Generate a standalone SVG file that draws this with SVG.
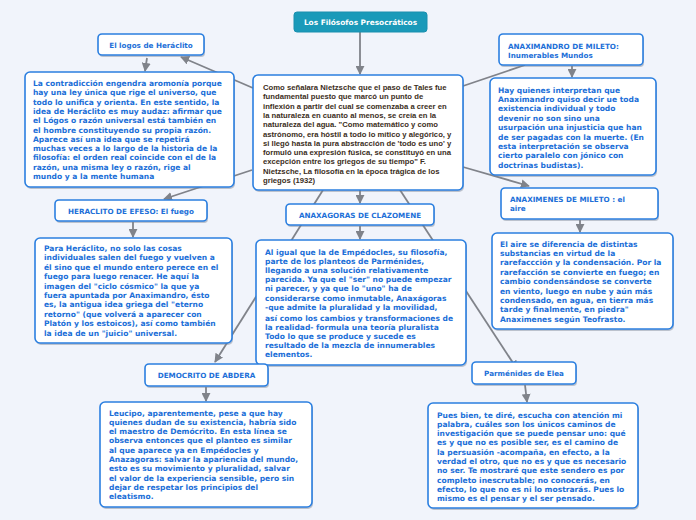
<svg xmlns="http://www.w3.org/2000/svg" width="696" height="520" viewBox="0 0 696 520">
<style>
.bg{fill:#f1f4fb}
.box{fill:#ffffff;stroke:#2b7fe0;stroke-width:1.6}
.sh{fill:#7d8494;opacity:0.45}
.root{fill:#1a9ab9;stroke:#1a8fae;stroke-width:1}
.t{font-family:"DejaVu Sans",Verdana,sans-serif;font-weight:bold;font-size:7.2px;fill:#1c6fd8}
.b{font-size:7.55px}
.tc{text-anchor:middle}
.dk{font-family:"Liberation Sans",Arial,sans-serif;font-weight:bold;font-size:7.7px;fill:#3b2e22}
.rt{font-family:"DejaVu Sans",Verdana,sans-serif;font-weight:bold;font-size:7.4px;fill:#ffffff;text-anchor:middle}
.ln{stroke:#80838a;stroke-width:1.8;fill:none}
.ar{stroke:#80838a;stroke-width:1.8;fill:none;marker-end:url(#ah)}
</style>
<defs>
<marker id="ah" viewBox="0 0 10 10" refX="9" refY="5" markerWidth="5" markerHeight="5" orient="auto" markerUnits="strokeWidth">
<path d="M0,0 L10,5 L0,10 z" fill="#80838a"/>
</marker>
</defs>
<rect class="bg" x="0" y="0" width="696" height="520"/>

<g id="connectors">
<path class="ar" d="M360,32 L360,74"/>
<path class="ar" d="M253,88 L181,57"/>
<path class="ar" d="M147,58 L145,71"/>
<path class="ar" d="M252,170 L164,199"/>
<path class="ar" d="M133,222 L133,237"/>
<path class="ln" d="M463,86 L525,65"/>
<path class="ar" d="M572,66 L572,77"/>
<path class="ar" d="M463,167 L529,186"/>
<path class="ar" d="M580,220 L580,232"/>
<path class="ar" d="M360,190 L360,203"/>
<path class="ar" d="M360,226 L360,239"/>
<path class="ar" d="M400,190 L517,369"/>
<path class="ar" d="M323,190 L215,362"/>
<path class="ar" d="M206,387 L206,401"/>
<path class="ar" d="M525,385 L527,402"/>
</g>

<g id="root">
<rect class="root" x="294" y="12" width="133" height="20" rx="3"/>
<text class="rt" x="360.5" y="25">Los Filósofos Presocráticos</text>
</g>

<g id="central">
<rect class="sh" x="254" y="77" width="210" height="115" rx="5"/>
<rect class="box" x="253" y="75" width="210" height="115" rx="5"/>
<text class="dk">
<tspan x="263" y="90">Como señalara Nietzsche que el paso de Tales fue</tspan>
<tspan x="263" y="99.3">fundamental puesto que marcó un punto de</tspan>
<tspan x="263" y="108.6">inflexión a partir del cual se comenzaba a creer en</tspan>
<tspan x="263" y="117.9">la naturaleza en cuanto al menos, se creía en la</tspan>
<tspan x="263" y="127.2">naturaleza del agua. "Como matemático y como</tspan>
<tspan x="263" y="136.5">astrónomo, era hóstil a todo lo mítico y alegórico, y</tspan>
<tspan x="263" y="145.8">si llegó hasta la pura abstracción de 'todo es uno' y</tspan>
<tspan x="263" y="155.1">formuló una expresión fúsica, se constituyó en una</tspan>
<tspan x="263" y="164.4">excepción entre los griegos de su tiempo" F.</tspan>
<tspan x="263" y="173.7">Nietzsche, La filosofía en la época trágica de los</tspan>
<tspan x="263" y="183">griegos (1932)</tspan>
</text>
</g>

<g id="logos-title">
<rect class="sh" x="99" y="36" width="106" height="21" rx="4"/>
<rect class="box" x="98" y="34" width="106" height="21" rx="4"/>
<text class="t tc" x="151" y="47.5">El logos de Heráclito</text>
</g>

<g id="logos-text">
<rect class="sh" x="26" y="74" width="209" height="115" rx="5"/>
<rect class="box" x="25" y="72" width="209" height="115" rx="5"/>
<text class="t b">
<tspan x="33" y="86">La contradicción engendra aromonía porque</tspan>
<tspan x="33" y="95.3">hay una ley única que rige el universo, que</tspan>
<tspan x="33" y="104.6">todo lo unifica y orienta. En este sentido, la</tspan>
<tspan x="33" y="113.9">idea de Heráclito es muy audaz: afirmar que</tspan>
<tspan x="33" y="123.2">el Lógos o razón universal está también en</tspan>
<tspan x="33" y="132.5">el hombre constituyendo su propia razón.</tspan>
<tspan x="33" y="141.8">Aparece así una idea que se repetirá</tspan>
<tspan x="33" y="151.1">muchas veces a lo largo de la historia de la</tspan>
<tspan x="33" y="160.4">filosofía: el orden real coincide con el de la</tspan>
<tspan x="33" y="169.7">razón, una misma ley o razón, rige al</tspan>
<tspan x="33" y="179">mundo y a la mente humana</tspan>
</text>
</g>

<g id="fuego-title">
<rect class="sh" x="56" y="202" width="152" height="21" rx="4"/>
<rect class="box" x="55" y="200" width="152" height="21" rx="4"/>
<text class="t tc" x="131" y="213.5">HERACLITO DE EFESO: El fuego</text>
</g>

<g id="fuego-text">
<rect class="sh" x="36" y="240" width="197" height="105" rx="5"/>
<rect class="box" x="35" y="238" width="197" height="105" rx="5"/>
<text class="t b">
<tspan x="44" y="251">Para Heráclito, no solo las cosas</tspan>
<tspan x="44" y="260.4">individuales salen del fuego y vuelven a</tspan>
<tspan x="44" y="269.8">él sino que el mundo entero perece en el</tspan>
<tspan x="44" y="279.2">fuego para luego renacer. He aquí la</tspan>
<tspan x="44" y="288.6">imagen del "ciclo cósmico" la que ya</tspan>
<tspan x="44" y="298">fuera apuntada por Anaximandro, ésto</tspan>
<tspan x="44" y="307.4">es, la antigua idea griega del "eterno</tspan>
<tspan x="44" y="316.8">retorno" (que volverá a aparecer con</tspan>
<tspan x="44" y="326.2">Platón y los estoicos), así como también</tspan>
<tspan x="44" y="335.6">la idea de un "juicio" universal.</tspan>
</text>
</g>

<g id="anaximandro-title">
<rect class="sh" x="500" y="36" width="144" height="31" rx="4"/>
<rect class="box" x="499" y="34" width="144" height="31" rx="4"/>
<text class="t">
<tspan x="508" y="48.5">ANAXIMANDRO DE MILETO:</tspan>
<tspan x="508" y="57.5">Inumerables Mundos</tspan>
</text>
</g>

<g id="anaximandro-text">
<rect class="sh" x="491" y="80" width="166" height="97" rx="5"/>
<rect class="box" x="490" y="78" width="166" height="97" rx="5"/>
<text class="t b">
<tspan x="498" y="92.5">Hay quienes interpretan que</tspan>
<tspan x="498" y="101.9">Anaximandro quiso decir ue toda</tspan>
<tspan x="498" y="111.3">existencia individual y todo</tspan>
<tspan x="498" y="120.7">devenir no son sino una</tspan>
<tspan x="498" y="130.1">usurpación una injusticia que han</tspan>
<tspan x="498" y="139.5">de ser pagadas con la muerte. (En</tspan>
<tspan x="498" y="148.9">esta interpretación se observa</tspan>
<tspan x="498" y="158.3">cierto paralelo con jónico con</tspan>
<tspan x="498" y="167.7">doctrinas budistas).</tspan>
</text>
</g>

<g id="anaximenes-title">
<rect class="sh" x="502" y="190" width="157" height="31" rx="4"/>
<rect class="box" x="501" y="188" width="157" height="31" rx="4"/>
<text class="t">
<tspan x="510" y="201.5">ANAXIMENES DE MILETO : el</tspan>
<tspan x="510" y="211">aire</tspan>
</text>
</g>

<g id="anaximenes-text">
<rect class="sh" x="493" y="235" width="181" height="96" rx="5"/>
<rect class="box" x="492" y="233" width="181" height="96" rx="5"/>
<text class="t b">
<tspan x="500" y="246.5">El aire se diferencia de distintas</tspan>
<tspan x="500" y="255.9">substancias en virtud de la</tspan>
<tspan x="500" y="265.3">rarefaccción y la condensación. Por la</tspan>
<tspan x="500" y="274.7">rarefacción se convierte en fuego; en</tspan>
<tspan x="500" y="284.1">cambio condensándose se converte</tspan>
<tspan x="500" y="293.5">en viento, luego en nube y aún más</tspan>
<tspan x="500" y="302.9">condensado, en agua, en tierra más</tspan>
<tspan x="500" y="312.3">tarde y finalmente, en piedra"</tspan>
<tspan x="500" y="321.7">Anaximenes según Teofrasto.</tspan>
</text>
</g>

<g id="anaxagoras-title">
<rect class="sh" x="287" y="206" width="148" height="21" rx="4"/>
<rect class="box" x="286" y="204" width="148" height="21" rx="4"/>
<text class="t tc" x="360" y="217.5">ANAXAGORAS DE CLAZOMENE</text>
</g>

<g id="anaxagoras-text">
<rect class="sh" x="257" y="242" width="210" height="125" rx="5"/>
<rect class="box" x="256" y="240" width="210" height="125" rx="5"/>
<text class="t b">
<tspan x="265" y="254.5">Al igual que la de Empédocles, su filosofía,</tspan>
<tspan x="265" y="263.7">parte de los planteos de Parménides,</tspan>
<tspan x="265" y="272.9">llegando a una solución relativamente</tspan>
<tspan x="265" y="282.1">parecida. Ya que el "ser" no puede empezar</tspan>
<tspan x="265" y="291.3">ni parecer, y ya que lo "uno" ha de</tspan>
<tspan x="265" y="300.5">considerarse como inmutable, Anaxágoras</tspan>
<tspan x="265" y="309.7">-que admite la pluralidad y la movilidad,</tspan>
<tspan x="265" y="320.5">así como los cambios y transformaciones de</tspan>
<tspan x="265" y="329.7">la realidad- formula una teoría pluralista</tspan>
<tspan x="265" y="338.9">Todo lo que se produce y sucede es</tspan>
<tspan x="265" y="348.1">resultado de la mezcla de innumerables</tspan>
<tspan x="265" y="357.3">elementos.</tspan>
</text>
</g>

<g id="democrito-title">
<rect class="sh" x="146" y="366" width="123" height="22" rx="4"/>
<rect class="box" x="145" y="364" width="123" height="22" rx="4"/>
<text class="t tc" x="206.5" y="377.5">DEMOCRITO DE ABDERA</text>
</g>

<g id="democrito-text">
<rect class="sh" x="101" y="404" width="212" height="105" rx="5"/>
<rect class="box" x="100" y="402" width="212" height="105" rx="5"/>
<text class="t b">
<tspan x="109" y="415.5">Leucipo, aparentemente, pese a que hay</tspan>
<tspan x="109" y="424.8">quienes dudan de su existencia, habría sido</tspan>
<tspan x="109" y="434.1">el maestro de Demócrito. En esta línea se</tspan>
<tspan x="109" y="443.4">observa entonces que el planteo es similar</tspan>
<tspan x="109" y="452.7">al que aparece ya en Empédocles y</tspan>
<tspan x="109" y="462">Anazagoras: salvar la apariencia del mundo,</tspan>
<tspan x="109" y="471.3">esto es su movimiento y pluralidad, salvar</tspan>
<tspan x="109" y="480.6">el valor de la experiencia sensible, pero sin</tspan>
<tspan x="109" y="489.9">dejar de respetar los principios del</tspan>
<tspan x="109" y="499.2">eleatismo.</tspan>
</text>
</g>

<g id="parmenides-title">
<rect class="sh" x="473" y="364" width="104" height="22" rx="4"/>
<rect class="box" x="472" y="362" width="104" height="22" rx="4"/>
<text class="t tc" x="524" y="375.5">Parménides de Elea</text>
</g>

<g id="parmenides-text">
<rect class="sh" x="429" y="405" width="210" height="105" rx="5"/>
<rect class="box" x="428" y="403" width="210" height="105" rx="5"/>
<text class="t b">
<tspan x="437" y="417.5">Pues bien, te diré, escucha con atención mi</tspan>
<tspan x="437" y="426.8">palabra, cuáles son los únicos caminos de</tspan>
<tspan x="437" y="436.1">investigación que se puede pensar uno: qué</tspan>
<tspan x="437" y="445.4">es y que no es posible ser, es el camino de</tspan>
<tspan x="437" y="454.7">la persuasión -acompaña, en efecto, a la</tspan>
<tspan x="437" y="464">verdad el otro, que no es y que es necesario</tspan>
<tspan x="437" y="473.3">no ser. Te mostraré que este sendero es por</tspan>
<tspan x="437" y="482.6">completo inescrutable; no conocerás, en</tspan>
<tspan x="437" y="491.9">efecto, lo que no es  ni lo mostrarás. Pues lo</tspan>
<tspan x="437" y="501.2">mismo es el pensar y el ser pensado.</tspan>
</text>
</g>
</svg>
